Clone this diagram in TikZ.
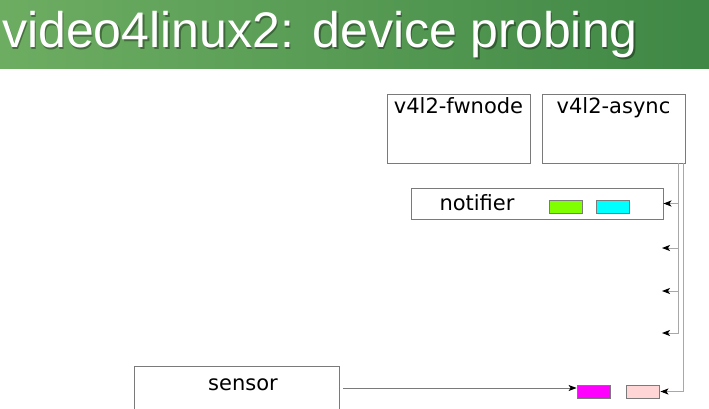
\documentclass[tikz,border=0pt]{standalone}
\usepackage{fontspec}
\setmainfont{DejaVu Sans}
\newfontfamily\titlefont{Liberation Sans}
\usepackage{tikz}
\usetikzlibrary{arrows.meta}

\definecolor{bandlight}{HTML}{6DAD62}
\definecolor{banddark}{HTML}{3F8745}
\definecolor{boxgray}{HTML}{7A7A7A}
\definecolor{linegray}{HTML}{A8A8A8}
\definecolor{padgreen}{HTML}{80FF00}
\definecolor{padcyan}{HTML}{00FFFF}
\definecolor{padmagenta}{HTML}{FF00FF}
\definecolor{padpink}{HTML}{FFD5D5}

\tikzset{
  box/.style={draw=boxgray, line width=0.9pt, inner sep=0pt},
  boxlabel/.style={font=\fontsize{21}{21}\selectfont, inner sep=4pt},
  pad/.style={draw=boxgray, line width=0.8pt, minimum width=33pt, minimum height=13pt, inner sep=0pt},
  conn/.style={draw=linegray, line width=1pt, -{Stealth[length=8pt,width=6pt,inset=2pt,color=black]}}
}

\begin{document}
\begin{tikzpicture}[x=1pt,y=-1pt]
\clip (0,0) rectangle (709,408);
\useasboundingbox (0,0) rectangle (709,408);
\fill[white] (0,0) rectangle (709,408);
% title band
\shade[left color=bandlight, right color=banddark] (0,0) rectangle (709,68);
\node[anchor=base west, inner sep=0pt, text=black, opacity=0.35, font=\titlefont\fontsize{50}{50}\selectfont] (titleshadow) at (3.5,49) {video4linux2: device probing};
\node[anchor=base west, inner sep=0pt, text=white, font=\titlefont\fontsize{50}{50}\selectfont] (title) at (2,47.5) {video4linux2: device probing};

% library boxes
\node[box, minimum width=143pt, minimum height=69pt, label={[boxlabel, anchor=north]north:v4l2-fwnode}] (fwnode) at (458.5,128.5) {};
\node[box, minimum width=143pt, minimum height=69pt, label={[boxlabel, anchor=north]north:v4l2-async}] (async) at (613.5,128.5) {};

% notifier
\node[box, minimum width=252pt, minimum height=31pt] (notifier) at (537,203.5) {};
\node[boxlabel, anchor=base] (notifiertext) at (477,210) {notifier};
\node[pad, fill=padgreen] (padg) at (565.5,206.5) {};
\node[pad, fill=padcyan] (padc) at (612.5,206.5) {};

% sensor
\node[box, minimum width=205pt, minimum height=44pt] (sensor) at (236.5,388) {};
\node[boxlabel, anchor=base] (sensortext) at (243,390) {sensor};
\node[pad, fill=padmagenta] (padm) at (593.5,391.5) {};
\node[pad, fill=padpink] (padp) at (642.5,391.5) {};

% connectors
\coordinate (tapA) at ([xshift=-7pt]async.south east);
\coordinate (tapB) at ([xshift=-2pt]async.south east);
\coordinate (free1) at (662,248);
\coordinate (free2) at (662,291);
\coordinate (free3) at (662,333);
\draw[conn] (tapA |- notifier.east) -- (notifier.east);
\draw[conn] (tapA |- free1) -- (free1);
\draw[conn] (tapA |- free2) -- (free2);
\draw[conn] (tapA) |- (free3);
\draw[conn] (tapB) |- ([xshift=1pt]padp.east);
\draw[conn, draw=boxgray, shorten <=4pt] (sensor.east) -- (sensor.east -| padm.west);
\end{tikzpicture}
\end{document}
